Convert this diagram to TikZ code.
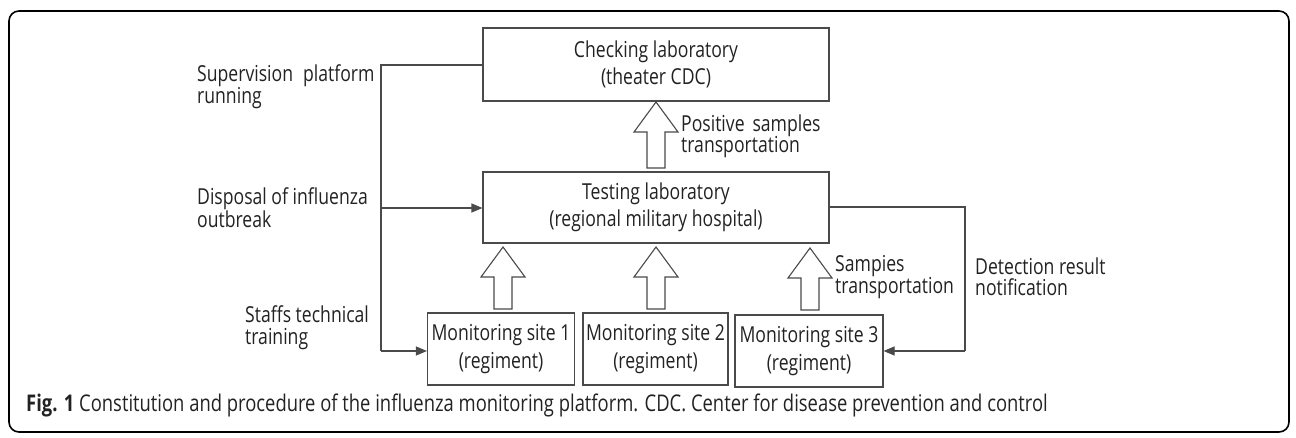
\documentclass[tikz,border=0pt]{standalone}
\usepackage{fontspec}
\setmainfont{Open Sans}[FakeStretch=0.8]
\usetikzlibrary{arrows.meta,positioning}
\definecolor{boxgray}{HTML}{4A4A4A}
\definecolor{txt}{HTML}{222222}
\tikzset{
  box/.style={draw=boxgray, line width=1.1pt, minimum width=#1, inner sep=0pt, align=center, font=\fontsize{22}{27.5}\selectfont, text=txt},
  lbl/.style={anchor=west, align=left, inner sep=0pt, font=\fontsize{22}{21.5}\selectfont, text=txt},
  conn/.style={draw=boxgray, line width=1.1pt},
  arr/.style={conn, -{Triangle[length=11pt,width=9pt]}},
  blk/.style={draw=boxgray, line width=1.1pt, fill=white, line join=miter}
}
\newcommand{\blockarr}[3]{% x center, y bottom, y top (y grows downwards)
  \draw[blk] (#1-9,#2) -- (#1+9,#2) -- (#1+9,#3+30) -- (#1+22,#3+30) -- (#1,#3) -- (#1-22,#3+30) -- (#1-9,#3+30) -- cycle;}
\begin{document}
\begin{tikzpicture}[x=1pt,y=-1pt]
\useasboundingbox (0,0) rectangle (1296,438);
\draw[line width=1.6pt, rounded corners=10pt, draw=black] (9,11) rectangle (1289,432);

\node[box=346pt, minimum height=73pt] (check) at (656,64.5) {Checking laboratory\\(theater CDC)};
\node[box=346pt, minimum height=71pt] (test) at (656,207.5) {Testing laboratory\\(regional military hospital)};
\node[box=147pt, minimum height=72pt] (m1) at (501,349) {Monitoring site 1\\(regiment)};
\node[box=145pt, minimum height=72pt] (m2) at (655.5,349) {Monitoring site 2\\(regiment)};
\node[box=148pt, minimum height=72pt] (m3) at (809,351) {Monitoring site 3\\(regiment)};

% block arrows
\blockarr{656}{168}{102}
\blockarr{503}{309}{247}
\blockarr{656}{309}{247}
\blockarr{810}{310}{248}

% left bus
\coordinate (bt) at (381,65);
\coordinate (bm) at (381,208);
\coordinate (bb) at (381,351);
\draw[conn] (check.west |- bt) -- (bt) -- (bb);
\draw[arr] (bm) -- (test.west |- bm);
\draw[arr] (bb) -- (m1.west |- bb);

% right connector
\coordinate (rt) at (965,207);
\coordinate (rb) at (965,351);
\draw[conn] (test.east |- rt) -- (rt) -- (rb);
\draw[arr] (rb) -- (m3.east |- rb);

% labels
\node[lbl] (l1) at (197,86.5) {Supervision\hspace{0.25em} platform\\running};
\node[lbl] (l2) at (197,208) {Disposal of influenza\\outbreak};
\node[lbl] (l3) at (245,327.5) {Staffs technical\\training};
\node[lbl] (l4) at (681,136.5) {Positive\hspace{0.15em} samples\\transportation};
\node[lbl] (l5) at (835,277) {Sampies\\transportation};
\node[lbl] (l6) at (975,277) {Detection result\\notification};

\node[lbl, font=\fontsize{23}{26}\selectfont] (cap) at (26,405) {\textbf{Fig. 1} Constitution and procedure of the influenza monitoring platform. CDC. Center for disease prevention and control};
\end{tikzpicture}
\end{document}
